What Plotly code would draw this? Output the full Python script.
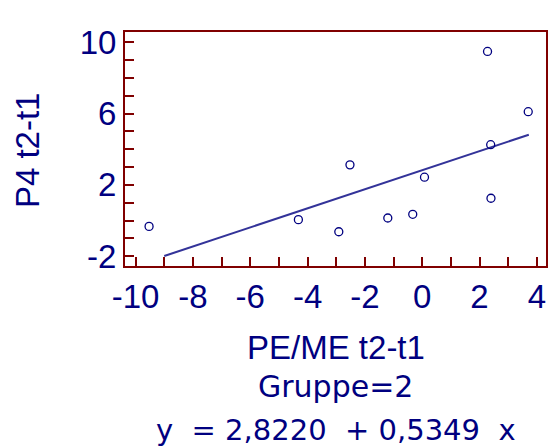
import plotly.graph_objects as go

# Observations (PE/ME change vs P4 change), group 2
pe_me = [-9.53, -4.32, -2.91, -2.52, -1.20, -0.33, 0.08, 2.28, 2.39, 2.40, 3.70]
p4 = [-0.33, 0.05, -0.63, 3.12, 0.14, 0.35, 2.43, 9.48, 4.25, 1.25, 6.10]

# Fitted regression line y = 2.8220 + 0.5349 x
intercept = 2.8220
slope = 0.5349
fit_x = [-9.0, 3.72]
fit_y = [intercept + slope * v for v in fit_x]

x_ticks = [-10, -8, -6, -4, -2, 0, 2, 4]
y_ticks = [-2, 2, 6, 10]

navy = "#000080"
maroon = "#800000"
font = "Liberation Sans, Arial, sans-serif"
wide_font = "DejaVu Sans, sans-serif"

fig = go.Figure()
fig.add_trace(go.Scatter(
    x=fit_x, y=fit_y, mode="lines",
    line=dict(color="#333399", width=2), hoverinfo="skip",
))
fig.add_trace(go.Scatter(
    x=pe_me, y=p4, mode="markers",
    marker=dict(symbol="circle-open", size=8, color=navy, line=dict(width=1.3)),
))

axis_common = dict(
    showline=True, linecolor=maroon, linewidth=2, mirror=True,
    ticks="inside", ticklen=9, tickwidth=2, tickcolor=maroon,
    showgrid=False, zeroline=False,
    tickfont=dict(family=font, size=33, color=navy),
)

fig.update_xaxes(
    range=[-10.37, 4.32],
    tickvals=x_ticks, ticktext=[str(v) for v in x_ticks],
    minor=dict(dtick=1, tick0=0, ticks="inside", ticklen=9, tickwidth=2, tickcolor=maroon),
    **axis_common,
)
fig.update_yaxes(
    range=[-2.55, 10.57],
    tickvals=y_ticks, ticktext=[str(v) for v in y_ticks],
    minor=dict(dtick=1, tick0=0, ticks="inside", ticklen=9, tickwidth=2, tickcolor=maroon),
    **axis_common,
)

nb = "\u00a0"
annotations = [
    dict(text="PE/ME t2-t1", x=0.5, y=-0.349, size=33, family=font),
    dict(text="Gruppe=2", x=0.5, y=-0.516, size=30, family=wide_font),
    dict(text=f"y{nb}{nb}={nb}2,8220{nb}{nb}+{nb}0,5349{nb}{nb}x", x=0.5, y=-0.70,
         size=29, family=wide_font),
]
for a in annotations:
    fig.add_annotation(
        text=a["text"], xref="paper", yref="paper", x=a["x"], y=a["y"],
        xanchor="center", yanchor="middle", showarrow=False,
        font=dict(family=a["family"], size=a["size"], color=navy),
    )
fig.add_annotation(
    text="P4 t2-t1", xref="paper", yref="paper", x=-0.23, y=0.496,
    xanchor="center", yanchor="middle", showarrow=False, textangle=-90,
    font=dict(family=font, size=33, color=navy),
)

fig.update_layout(
    width=555, height=447,
    margin=dict(l=125, r=7, t=32, b=181),
    paper_bgcolor="white", plot_bgcolor="white",
    showlegend=False,
)

fig.write_html("out.html")
